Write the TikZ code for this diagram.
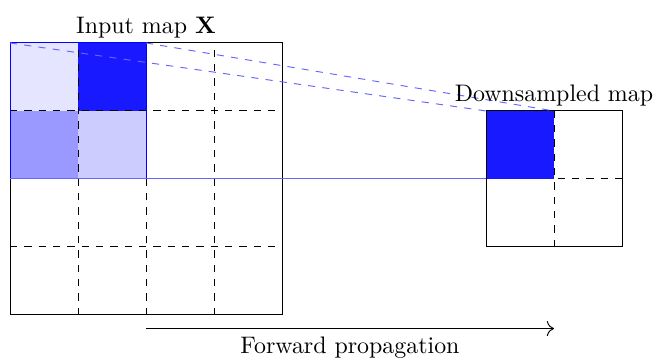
\documentclass[tikz,border=0pt]{standalone}
\usetikzlibrary{arrows.meta}
\begin{document}
\begin{tikzpicture}[
  gridline/.style={black,dashed,line width=0.4pt},
  frame/.style={black,line width=0.4pt},
  proj/.style={blue!60,line width=0.4pt},
  lbl/.style={inner sep=2pt}
]
\useasboundingbox (-0.147,-0.647) rectangle (9.515,4.632);
% left input map fills
\fill[blue!10] (0,3) rectangle (1,4);
\fill[blue!90] (1,3) rectangle (2,4);
\fill[blue!40] (0,2) rectangle (1,3);
\fill[blue!20] (1,2) rectangle (2,3);
% left grid
\foreach \i in {1,2,3} {
  \draw[gridline] (\i,0) -- (\i,4);
  \draw[gridline] (0,\i) -- (4,\i);
}
\draw[frame] (0,0) rectangle (4,4);
\draw[blue,line width=0.4pt] (0,2) rectangle (2,4);
% right map
\draw[gridline] (8,1) -- (8,3);
\draw[gridline] (7,2) -- (9,2);
\fill[blue!90] (7,2) rectangle (8,3);
\draw[frame] (7,1) rectangle (9,3);
% coordinates
\coordinate (a1) at (0,4);
\coordinate (a2) at (2,4);
\coordinate (a3) at (0,2);
\coordinate (b1) at (7,3);
\coordinate (b2) at (8,3);
\coordinate (b3) at (7,2);
\draw[proj,dashed] (a1) -- (b1);
\draw[proj,dashed] (a2) -- (b2);
\draw[proj] (a3) -- (b3);
% labels
\node[lbl,anchor=south] (inlbl) at (2,4) {Input map $\mathbf{X}$};
\node[lbl,anchor=south] (outlbl) at (8,3) {Downsampled map};
\coordinate (f1) at (2,-0.2);
\coordinate (f2) at (8,-0.2);
\draw[-{To[length=3pt]},line width=0.4pt] (f1) -- (f2);
\node[lbl,anchor=north] (fwd) at (5,-0.24) {Forward propagation};
\end{tikzpicture}
\end{document}
